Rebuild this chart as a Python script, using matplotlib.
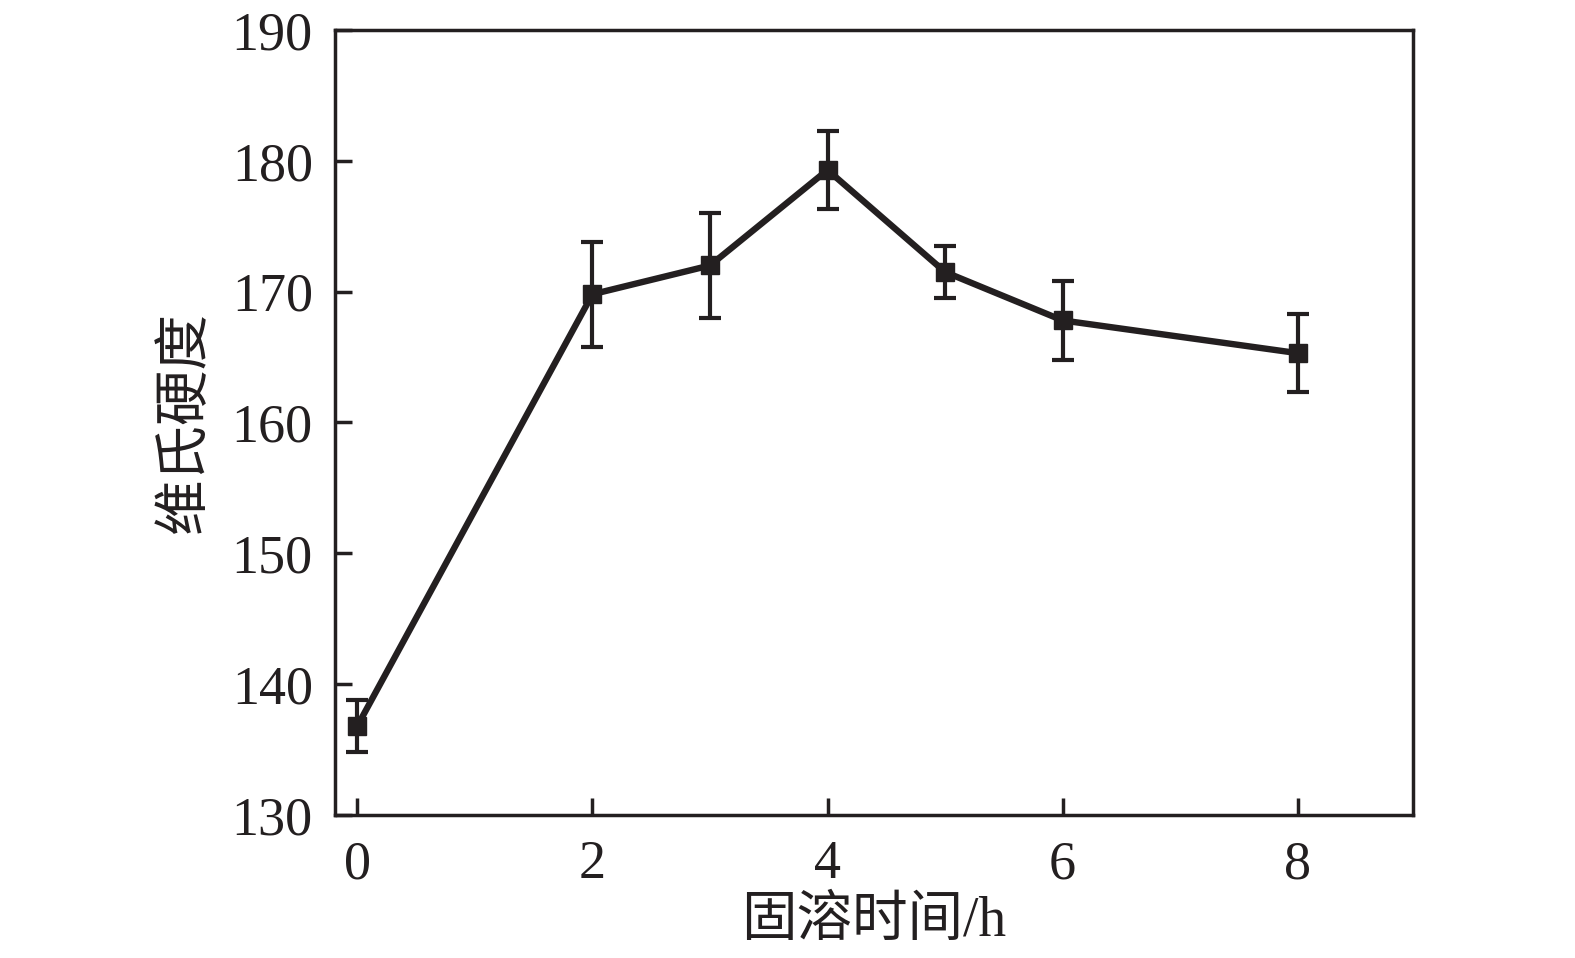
import matplotlib
matplotlib.use("Agg")
from matplotlib import pyplot as plt

# solution time (h) vs Vickers hardness
time_h = [0, 2, 3, 4, 5, 6, 8]
hardness = [136.8, 169.8, 172.0, 179.3, 171.5, 167.8, 165.3]
hardness_err = [2.0, 4.0, 4.0, 3.0, 2.0, 3.0, 3.0]

xlabel = "固溶时间/h"
ylabel = "维氏硬度"
xticks = [0, 2, 4, 6, 8]
yticks = [130, 140, 150, 160, 170, 180, 190]

plt.rcParams['font.family'] = ['Liberation Serif', 'Noto Sans CJK SC']
color = "#231f20"

fig = plt.figure(figsize=(15.75, 9.58), dpi=100)
ax = fig.add_axes([0.2127, 0.1493, 0.6844, 0.8194])

ax.errorbar(time_h, hardness, yerr=hardness_err, color=color, lw=4.6,
            marker='s', markersize=13, elinewidth=3, capsize=8, capthick=3)

ax.set_xlim(-0.19, 8.98)
ax.set_ylim(130, 190)
ax.set_xticks(xticks)
ax.set_yticks(yticks)
ax.tick_params(direction='in', length=12, width=2.5, labelsize=39, color=color,
               labelcolor=color)
ax.tick_params(axis='y', pad=16)
ax.tick_params(axis='x', pad=18)
for s in ax.spines.values():
    s.set_linewidth(2.5)
    s.set_color(color)

ax.set_xlabel(xlabel, fontsize=40, color=color, labelpad=4)
ax.set_ylabel(ylabel, fontsize=40, color=color, labelpad=14)

fig.savefig("out.png", dpi=100)
